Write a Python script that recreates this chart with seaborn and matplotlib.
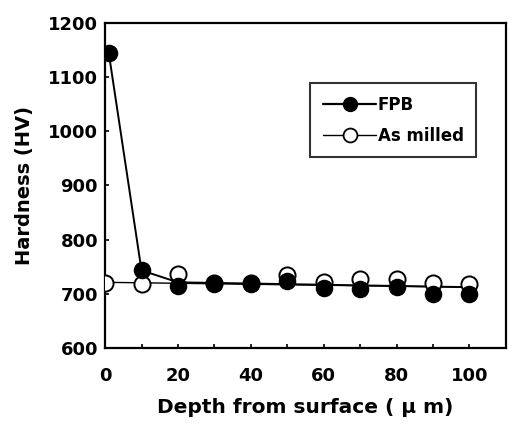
import matplotlib
matplotlib.use("Agg")
import matplotlib.pyplot as plt
import seaborn as sns
from matplotlib.lines import Line2D

sns.set_theme(style="white")
plt.rcParams['font.family'] = ['DejaVu Sans']
plt.rcParams['text.color'] = 'black'
plt.rcParams['axes.labelcolor'] = 'black'

# Data
depth_fpb = [1, 10, 20, 30, 40, 50, 60, 70, 80, 90, 100]
hv_fpb = [1145, 743, 715, 718, 718, 723, 710, 708, 713, 699, 700]
depth_milled = [0, 10, 20, 30, 40, 50, 60, 70, 80, 90, 100]
hv_milled = [720, 717, 737, 719, 719, 735, 721, 727, 727, 720, 717]

# Connecting (trend) lines as drawn in the figure
line_fpb_x = [1, 10, 20, 100]
line_fpb_y = [1145, 743, 721, 712]
line_milled_x = [0, 100]
line_milled_y = [721, 712]

fig = plt.figure(figsize=(5.1, 4.3), dpi=100)
ax = fig.add_axes([0.206, 0.191, 0.786, 0.756])

sns.lineplot(x=line_milled_x, y=line_milled_y, ax=ax, color="black", lw=1.0, zorder=2)
sns.lineplot(x=line_fpb_x, y=line_fpb_y, ax=ax, color="black", lw=1.4, zorder=2)
sns.scatterplot(x=depth_milled, y=hv_milled, ax=ax, s=135, facecolor="white",
                edgecolor="black", linewidth=1.4, zorder=3)
sns.scatterplot(x=depth_fpb, y=hv_fpb, ax=ax, s=135, color="black",
                edgecolor="black", linewidth=1.0, zorder=4)

ax.set_xlim(0, 110)
ax.set_ylim(600, 1200)
ax.set_xticks([0, 20, 40, 60, 80, 100])
ax.set_xticks(range(10, 110, 20), minor=True)
ax.set_yticks(range(600, 1201, 100))
ax.tick_params(axis="both", which="both", direction="in", length=3, width=1.2,
               labelsize=13, colors="black", labelcolor="black", bottom=True, left=True)
for lab in ax.get_xticklabels() + ax.get_yticklabels():
    lab.set_fontweight("bold")
ax.tick_params(axis="x", pad=14)
ax.tick_params(axis="y", pad=5)
for sp in ax.spines.values():
    sp.set_color("black")
    sp.set_linewidth(1.6)

ax.set_xlabel("Depth from surface ( μ m)", fontsize=14.5, fontweight="bold",
              labelpad=9, color="black")
ax.set_ylabel("Hardness (HV)", fontsize=14, fontweight="bold", labelpad=10, color="black")

handles = [
    Line2D([], [], color="black", lw=1.6, marker="o", markersize=10,
           markerfacecolor="black", markeredgecolor="black"),
    Line2D([], [], color="black", lw=1.0, marker="o", markersize=10,
           markerfacecolor="white", markeredgecolor="black", markeredgewidth=1.3),
]
leg = ax.legend(handles, ["FPB", "As milled"], loc="upper left",
                bbox_to_anchor=(0.5, 0.83), frameon=True, fancybox=False,
                edgecolor="black", fontsize=12, handlelength=3.2,
                handletextpad=0.1, borderpad=0.75, labelspacing=0.8,
                borderaxespad=0.3)
leg.get_frame().set_linewidth(1.5)
for t in leg.get_texts():
    t.set_fontweight("bold")
    t.set_color("black")

fig.savefig("out.png", dpi=100)
